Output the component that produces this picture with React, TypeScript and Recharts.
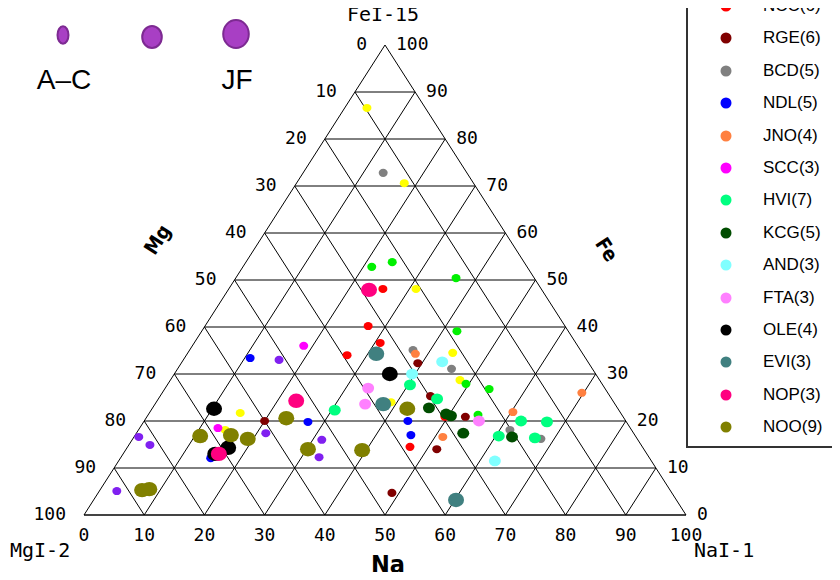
import React from "react";
import {
  ScatterChart,
  Scatter,
  XAxis,
  YAxis,
  ReferenceLine,
  ReferenceDot,
} from "recharts";

// ternary composition, each point is [Na, Fe] in %, Mg = 100 - Na - Fe
const yellowPts = [[3.7, 86.6], [17.9, 70.6], [31.1, 48.1], [44.0, 34.5], [48.1, 28.7], [39.0, 24.0], [15.1, 21.7], [14.4, 18.1]];
const purplePts = [[15.9, 33.0], [0.8, 16.6], [3.5, 14.9], [21.5, 17.4], [31.5, 16.0], [32.9, 12.3], [2.9, 5.1]];
const limePts = [[21.4, 52.8], [24.3, 53.8], [36.6, 50.4], [42.4, 39.1], [49.5, 27.9], [53.9, 26.8], [54.8, 21.3]];
const nccPts = [[25.6, 48.1], [27.1, 40.2], [30.9, 36.6], [26.7, 34.0], [49.5, 20.9], [46.9, 14.5]];
const rgePts = [[39.3, 32.3], [44.9, 25.3], [52.9, 20.9], [51.6, 14.0], [48.8, 4.7], [20.0, 20.0]];
const bcdPts = [[13.3, 72.8], [37.1, 35.1], [45.5, 31.1], [61.7, 18.1], [67.8, 16.2]];
const ndlPts = [[10.9, 33.4], [27.3, 19.8], [15.0, 12.1], [43.8, 20.0], [45.8, 17.0]];
const jnoPts = [[37.9, 34.3], [69.7, 26.0], [60.3, 21.9], [51.3, 16.6]];
const sccPts = [[18.5, 36.0], [13.0, 18.5], [16.1, 13.4]];
const hviPts = [[40.3, 27.7], [46.3, 24.7], [30.5, 22.3], [62.6, 20.0], [67.0, 19.8], [60.5, 16.8], [66.7, 16.4]];
const kcgPts = [[45.9, 22.8], [50.4, 21.1], [54.3, 17.4], [62.8, 16.6], [49.4, 21.5]];
const andPts = [[43.2, 32.6], [39.5, 30.0], [62.5, 11.5]];
const ftaPts = [[33.7, 27.0], [34.9, 23.6], [55.6, 20.0]];
const olePts = [[35.8, 30.0], [10.3, 22.6], [16.8, 14.3], [15.3, 13.0]];
const eviPts = [[31.4, 34.3], [37.9, 23.6], [60.2, 3.2]];
const nopPts = [[23.4, 47.9], [23.1, 24.3], [15.9, 13.0]];
const nooPts = [[42.4, 22.6], [39.3, 13.8], [23.3, 20.6], [10.9, 16.8], [15.9, 17.0], [19.1, 16.2], [30.2, 14.0], [7.0, 5.3], [8.1, 5.5]];

const ticks = [0, 10, 20, 30, 40, 50, 60, 70, 80, 90, 100];

const series = [
  { name: "", color: "#ffff00", r: 4.5, pts: yellowPts },
  { name: "", color: "#8020f0", r: 4.5, pts: purplePts },
  { name: "", color: "#00f000", r: 4.5, pts: limePts },
  { name: "NCC(6)", color: "#ff0000", r: 4.5, pts: nccPts },
  { name: "RGE(6)", color: "#800000", r: 4.5, pts: rgePts },
  { name: "BCD(5)", color: "#808080", r: 4.5, pts: bcdPts },
  { name: "NDL(5)", color: "#0000ff", r: 4.5, pts: ndlPts },
  { name: "JNO(4)", color: "#ff8040", r: 4.5, pts: jnoPts },
  { name: "SCC(3)", color: "#ff00ff", r: 4.5, pts: sccPts },
  { name: "HVI(7)", color: "#00ff80", r: 6, pts: hviPts },
  { name: "KCG(5)", color: "#004d00", r: 6, pts: kcgPts },
  { name: "AND(3)", color: "#80ffff", r: 6, pts: andPts },
  { name: "FTA(3)", color: "#ff80ff", r: 6, pts: ftaPts },
  { name: "OLE(4)", color: "#000000", r: 8, pts: olePts },
  { name: "EVI(3)", color: "#408080", r: 8, pts: eviPts },
  { name: "NOP(3)", color: "#ff0080", r: 8, pts: nopPts },
  { name: "NOO(9)", color: "#808000", r: 8, pts: nooPts },
];

const legendItems = series.filter((s) => s.name);

const numFont = "'DejaVu Sans Mono', monospace";
const sansFont = "'Liberation Sans', Arial, sans-serif";
const boldFont = "'DejaVu Sans Condensed', 'DejaVu Sans', sans-serif";

// ternary -> cartesian (x along base, y = Fe)
const toXY = (p: number[]) => ({ x: p[0] + p[1] / 2, y: p[1] });

function gridSegments() {
  const segs: { x: number; y: number }[][] = [];
  ticks.forEach((k) => {
    if (k === 100) return;
    segs.push([{ x: k / 2, y: k }, { x: 100 - k / 2, y: k }]);
    segs.push([{ x: k, y: 0 }, { x: k + (100 - k) / 2, y: 100 - k }]);
    segs.push([{ x: 100 - k, y: 0 }, { x: (100 - k) / 2, y: 100 - k }]);
  });
  return segs;
}

function tickText(key: string, x: number, y: number, text: string, dx: number, anchor: string) {
  return (
    <ReferenceDot
      key={key}
      x={x}
      y={y}
      r={0}
      ifOverflow="visible"
      shape={(p: any) => (
        <text x={p.cx + dx} y={p.cy + 5} textAnchor={anchor} fontSize={18} fontFamily={numFont} fill="#000">
          {text}
        </text>
      )}
    />
  );
}

export default function App() {
  return (
    <div style={{ position: "relative", margin: -8, width: 840, height: 580, overflow: "hidden", background: "#fff" }}>
      <ScatterChart width={840} height={580} margin={{ top: 45, right: 154, bottom: 35, left: 84 }}>
        <XAxis
          type="number"
          dataKey="x"
          domain={[0, 100]}
          ticks={ticks}
          interval={0}
          axisLine={false}
          tickLine={false}
          tickMargin={7}
          height={30}
          tick={{ fontSize: 18, fill: "#000", fontFamily: numFont }}
        />
        <YAxis type="number" dataKey="y" domain={[0, 100]} hide />
        {gridSegments().map((s, i) => (
          <ReferenceLine
            key={"g" + i}
            segment={s}
            stroke={i === 0 ? "#444" : "#000"}
            strokeWidth={i === 0 ? 2 : 1}
            ifOverflow="visible"
          />
        ))}
        {ticks.map((k) => tickText("l" + k, k / 2, k, String(100 - k), -18, "end"))}
        {ticks.map((k) => tickText("r" + k, 100 - k / 2, k, String(k), 11, "start"))}
        {series.map((s, i) => (
          <Scatter
            key={"s" + i}
            name={s.name}
            data={s.pts.map(toXY)}
            isAnimationActive={false}
            shape={(p: any) => <ellipse cx={p.cx} cy={p.cy} rx={s.r} ry={s.r * 0.9} fill={s.color} />}
          />
        ))}
      </ScatterChart>

      <svg width={840} height={580} style={{ position: "absolute", left: 0, top: 0, pointerEvents: "none" }}>
        <ellipse cx={63} cy={35} rx={5.5} ry={8.7} fill="#a83fc4" stroke="#7d2a92" strokeWidth={2} />
        <ellipse cx={152} cy={37} rx={9.8} ry={11} fill="#a83fc4" stroke="#7d2a92" strokeWidth={2} />
        <ellipse cx={236} cy={34} rx={12.8} ry={14} fill="#a83fc4" stroke="#7d2a92" strokeWidth={2} />
        <text x={64} y={89} textAnchor="middle" fontSize={28} fontFamily={sansFont} fill="#000">A–C</text>
        <text x={237} y={89} textAnchor="middle" fontSize={28} fontFamily={sansFont} fill="#000">JF</text>
        <text x={383} y={21} textAnchor="middle" fontSize={20} fontFamily={numFont} fill="#000">FeI-15</text>
        <text x={10} y={557} fontSize={20} fontFamily={numFont} fill="#000">MgI-2</text>
        <text x={694} y={557} fontSize={20} fontFamily={numFont} fill="#000">NaI-1</text>
        <text x={388} y={573} textAnchor="middle" fontSize={25} fontWeight="bold" fontFamily={boldFont} fill="#000">Na</text>
        <text x={158} y={246} textAnchor="middle" fontSize={20} fontWeight="bold" fontFamily={boldFont} fill="#000" transform="rotate(-57 158 240)">Mg</text>
        <text x={606} y={256} textAnchor="middle" fontSize={20} fontWeight="bold" fontFamily={boldFont} fill="#000" transform="rotate(57 606 250)">Fe</text>
      </svg>

      <div
        style={{
          position: "absolute",
          left: 686,
          top: -30,
          width: 200,
          height: 478,
          borderLeft: "2px solid #333",
          borderBottom: "2px solid #333",
          boxSizing: "border-box",
          fontFamily: sansFont,
          fontSize: 17,
        }}
      >
        {legendItems.map((s, i) => (
          <div
            key={s.name}
            style={{ position: "absolute", left: 32, top: 36 + i * 32.4 - 10, height: 20, display: "flex", alignItems: "center" }}
          >
            <svg width={12} height={12}>
              <circle cx={6} cy={6} r={5.5} fill={s.color} />
            </svg>
            <span style={{ marginLeft: 31, color: "#000" }}>{s.name}</span>
          </div>
        ))}
      </div>
    </div>
  );
}
